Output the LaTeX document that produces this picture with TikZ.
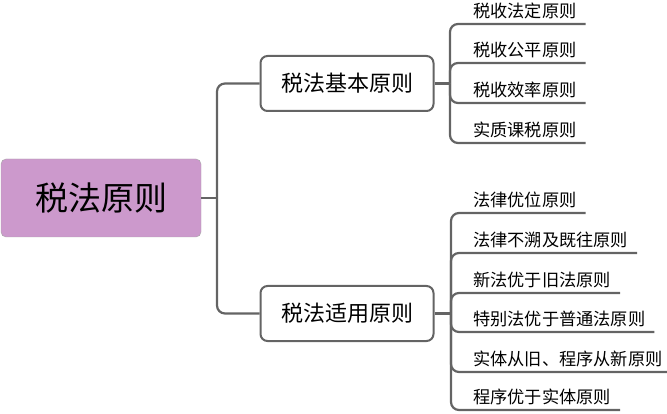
\documentclass[tikz,border=0pt]{standalone}
\usepackage{fontspec}
\setmainfont{Noto Sans CJK SC}
\definecolor{rootfill}{RGB}{204,153,204}
\definecolor{linegray}{RGB}{100,100,100}
\tikzset{
	rootbox/.style={draw=gray!70, fill=rootfill, rounded corners=5pt,
			minimum width=200pt, minimum height=78pt,
			font=\fontsize{33}{36}\selectfont},
	branchbox/.style={draw=linegray, line width=2pt, fill=white, rounded corners=7pt,
			minimum width=173pt, minimum height=55pt,
			font=\fontsize{22}{24}\selectfont},
	leaf/.style={anchor=south west, inner xsep=9pt, inner ysep=5pt,
			font=\fontsize{17.2}{18}\selectfont},
	conn/.style={draw=linegray, line width=2.2pt, rounded corners=8pt}
}

\begin{document}
\begin{tikzpicture}[x=1pt,y=-1pt]
				\useasboundingbox (0,0) rectangle (667,414);
				\node [rootbox] (root) at (101,198) {税法原则};
				\node [branchbox] (basic) at (347,83.5) {税法基本原则};
				\node [branchbox] (apply) at (347,313.5) {税法适用原则};
				\draw [conn] (root.east) -- (217,198) coordinate (rootfork);
				\draw [conn] (rootfork) |- (basic.west);
				\draw [conn] (rootfork) |- (apply.west);
				\draw [conn] (basic.east) -- (450,83.5) coordinate (basicfork);
				\draw [conn] (apply.east) -- (451,313.5) coordinate (applyfork);
				\foreach \y/\t [count=\i] in {24/税收法定原则, 63/税收公平原则, 103/税收效率原则, 143/实质课税原则}{
					\node [leaf] (basic\i) at (464,\y) {\t};
					\draw [conn] (basicfork) |- (basic\i.south east);
				}
				\foreach \y/\t [count=\i] in {213/法律优位原则, 253/法律不溯及既往原则, 293/新法优于旧法原则, 332/特别法优于普通法原则, 372/实体从旧、程序从新原则, 410/程序优于实体原则}{
					\node [leaf] (apply\i) at (464,\y) {\t};
					\draw [conn] (applyfork) |- (apply\i.south east);
				}
			\end{tikzpicture}
\end{document}
